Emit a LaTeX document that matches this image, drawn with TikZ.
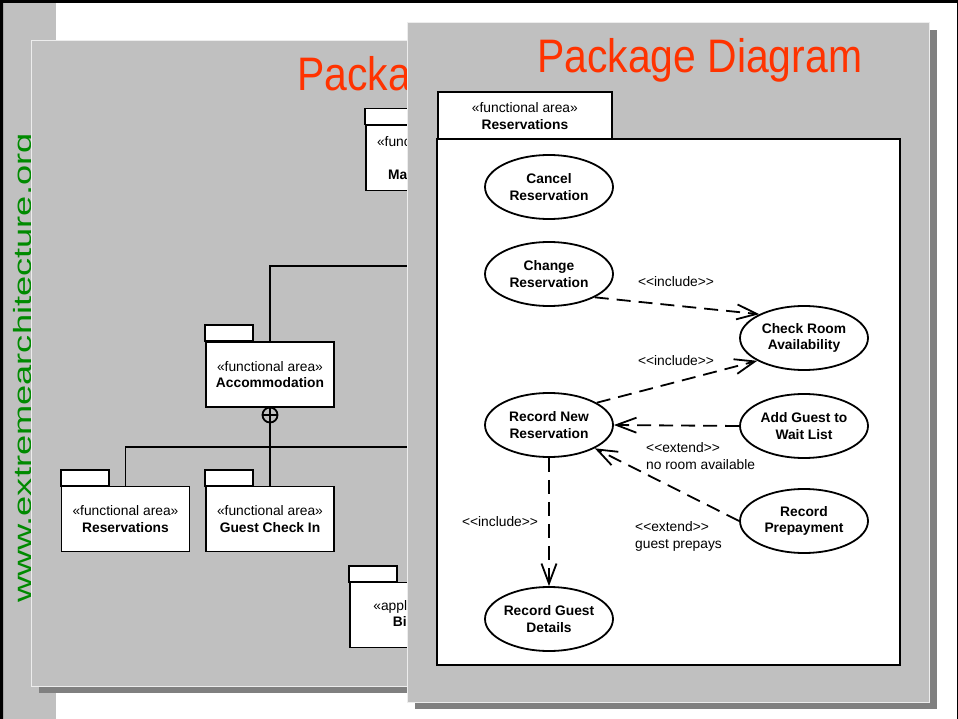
\documentclass[tikz,border=0pt]{standalone}
\usepackage{fontspec}
\setmainfont{Liberation Sans}
\usetikzlibrary{arrows.meta,shapes.geometric,positioning}
\definecolor{panelgray}{HTML}{C0C0C0}
\definecolor{shadegray}{HTML}{808080}
\definecolor{panelrim}{HTML}{EDEDED}
\definecolor{titlered}{HTML}{FF3300}
\definecolor{webgreen}{HTML}{008A00}
\newcommand\stereo[1]{<\kern0pt<#1>\kern0pt>}

\begin{document}
\begin{tikzpicture}[x=1pt,y=-1pt,font=\fontsize{13.8}{16.5}\selectfont,
    pkg body/.style={draw,fill=white,line width=1.8pt,minimum width=128pt,minimum height=65pt,inner sep=0pt,align=center},
    pkg tab/.style={draw,fill=white,line width=1.8pt},
    link/.style={line width=1.8pt},
    use case/.style={ellipse,draw,fill=white,line width=1.8pt,minimum width=128pt,minimum height=64pt,inner sep=0pt,align=center,font=\fontsize{13.8}{16.5}\selectfont\bfseries},
    dep/.style={line width=1.8pt,dash pattern=on 14pt off 8pt,-{Straight Barb[length=20pt,width=15pt]}},
    panel/.style={fill=panelgray,draw=panelrim,line width=1pt},
    shade/.style={fill=shadegray},
    tag/.style={inner sep=0pt,align=left},
    slide title/.style={anchor=base west,inner sep=0pt,text=titlered,font=\fontsize{47}{47}\selectfont}]

  \fill[white] (0,0) rectangle (958,719);
  \useasboundingbox (0,0) rectangle (958,719);
  \fill[panelgray] (3,3) rectangle (56,719);
  \fill[black] (0,0) rectangle (958,3) (0,0) rectangle (3,719);
  \draw[line width=1pt] (957.5,0) -- (957.5,719);

  \node[rotate=90,anchor=base west,inner sep=0pt,text=webgreen,font=\fontsize{25}{25}\selectfont] (site) at (31,603) {\scalebox{1.45}[1]{www.extremearchitecture.org}};

  % slide behind
  \fill[shade] (39,48) rectangle (888,693);
  \draw[panel] (31,41) rectangle (880,686);
  \node[slide title] (backTitle) at (297,91) {\scalebox{0.87}[1]{Package}};

  \node[pkg body] (maint) at (430,158) {«functional area»\\[16pt]\textbf{Maintenance}};
  \node[pkg body] (acc) at (270,374.5) {«functional area»\\\textbf{Accommodation}};
  \node[pkg body] (resv) at (125.5,519) {«functional area»\\\textbf{Reservations}};
  \node[pkg body] (gci) at (270,519) {«functional area»\\\textbf{Guest Check In}};
  \node[pkg body] (bill) at (414,615) {«application»\\\textbf{Billing}};
  \foreach \p in {maint,acc,resv,gci,bill}
    \draw[pkg tab] (\p.north west) rectangle ++(48,-16);

  \node[circle,draw,line width=1.8pt,minimum size=15pt,inner sep=0pt] (nest) at (270,415) {};
  \draw[link] (nest.north) -- (nest.south) (nest.west) -- (nest.east);
  \coordinate (upLink) at (520,266);
  \coordinate (sideLink) at (520,447);
  \draw[link] (acc.north) |- (upLink);
  \draw[link] (nest.south) -- (gci.north);
  \draw[link] (resv.north) |- (sideLink);

  % slide in front
  \fill[shade] (415,30) rectangle (937,709);
  \draw[panel] (407,23) rectangle (929,702);
  \node[slide title] (frontTitle) at (537,73) {\scalebox{0.87}[1]{Package Diagram}};

  \node[pkg tab,minimum width=174pt,minimum height=48pt,inner sep=0pt,align=center,anchor=north west] (resvTab) at (437,91) {«functional area»\\\textbf{Reservations}};
  \draw[pkg tab] (437,139) rectangle (900,665);

  \node[use case] (cancel) at (549,187) {Cancel\\Reservation};
  \node[use case] (change) at (549,274) {Change\\Reservation};
  \node[use case] (check) at (804,338) {Check Room\\Availability};
  \node[use case] (recnew) at (549,425) {Record New\\Reservation};
  \node[use case] (wait) at (804,426) {Add Guest to\\Wait List};
  \node[use case] (prepay) at (804,521) {Record\\Prepayment};
  \node[use case] (details) at (549,619) {Record Guest\\Details};

  \path[dep]
        (change.-27) edge (check.152)
        (recnew.25) edge (check.206)
        (wait.west) edge (recnew.east)
        (prepay.west) edge (recnew.-27)
        (recnew.south) edge (details.north);

  \node[tag] (incA) at (676,282) {\stereo{include}};
  \node[tag] (incB) at (676,361) {\stereo{include}};
  \node[tag,anchor=west] (extA) at (646,456) {\stereo{extend}\\no room available};
  \node[tag] (incC) at (500,522) {\stereo{include}};
  \node[tag,anchor=west] (extB) at (635,536.5) {\stereo{extend}\\guest prepays};

\end{tikzpicture}
\end{document}
